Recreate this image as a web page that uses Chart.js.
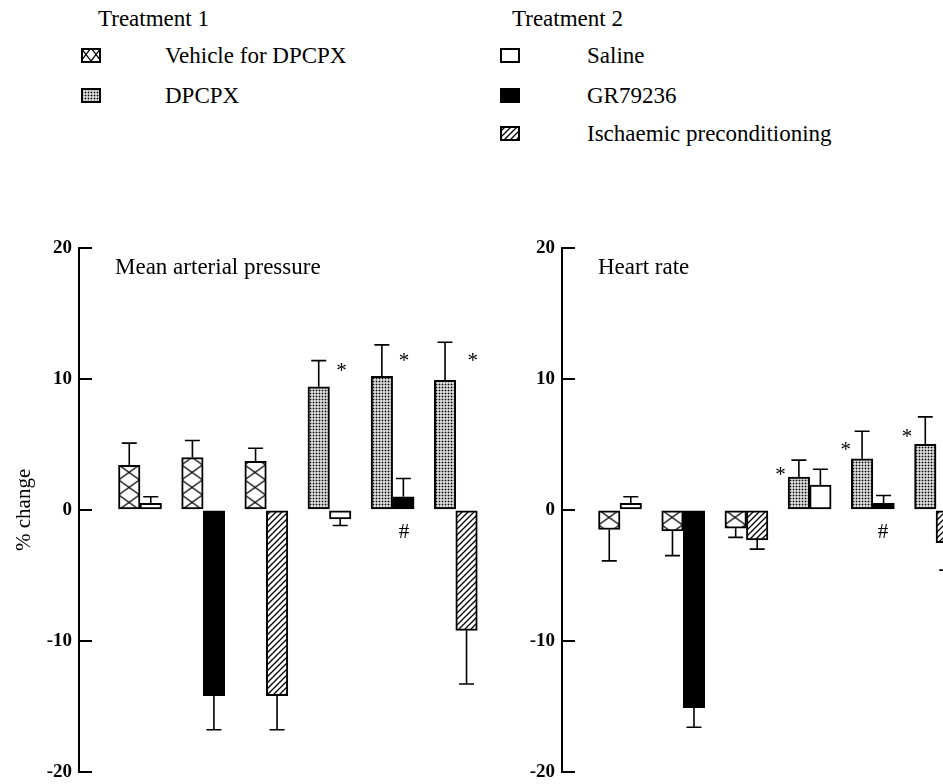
<!DOCTYPE html>
<html>
<head>
<meta charset="utf-8">
<script src="https://cdn.jsdelivr.net/npm/chart.js@4.4.0/dist/chart.umd.min.js"></script>
<style>
  html, body { margin: 0; padding: 0; background: #fff; overflow: hidden; width: 943px; height: 784px; }
  body { position: relative; font-family: "Liberation Serif", "DejaVu Serif", serif; color: #000; }
  .lbl { position: absolute; font-size: 23px; line-height: 1; white-space: nowrap; transform: translateY(-50%); }
  .sw { position: absolute; }
  #mapChart, #hrChart { position: absolute; top: 230px; }
  #mapChart { left: 0; }
  #hrChart { left: 483px; }
</style>
</head>
<body>

<div class="lbl" style="left:98px;top:18px">Treatment 1</div>
<div class="lbl" style="left:165px;top:55px">Vehicle for DPCPX</div>
<div class="lbl" style="left:165px;top:95px">DPCPX</div>
<div class="lbl" style="left:512px;top:18px">Treatment 2</div>
<div class="lbl" style="left:587px;top:55px">Saline</div>
<div class="lbl" style="left:587px;top:95px">GR79236</div>
<div class="lbl" style="left:587px;top:133px">Ischaemic preconditioning</div>

<canvas class="sw" id="swVehicle" width="20" height="15" style="left:81px;top:48px"></canvas>
<canvas class="sw" id="swDpcpx" width="20" height="15" style="left:81px;top:88px"></canvas>
<canvas class="sw" id="swSaline" width="20" height="15" style="left:500px;top:48px"></canvas>
<canvas class="sw" id="swGr" width="20" height="15" style="left:500px;top:88px"></canvas>
<canvas class="sw" id="swIsch" width="20" height="15" style="left:500px;top:126px"></canvas>

<canvas id="mapChart" width="483" height="554"></canvas>
<canvas id="hrChart" width="483" height="554"></canvas>

<script>
// group positions and fill kinds
var groups = [1, 2, 3, 4, 5, 6];
var t1Kinds = ['cross', 'cross', 'cross', 'dots', 'dots', 'dots'];
var t2Kinds = ['white', 'black', 'hatch', 'white', 'black', 'hatch'];
var yTicks = [-20, -10, 0, 10, 20];

// mean arterial pressure, % change
var mapT1 = [3.4, 4.0, 3.7, 9.4, 10.2, 9.9];
var mapT1Err = [1.7, 1.3, 1.0, 2.0, 2.4, 2.9];
var mapT2 = [0.5, -14.2, -14.2, -0.7, 1.0, -9.2];
var mapT2Err = [0.5, 2.6, 2.6, 0.5, 1.4, 4.1];

// heart rate, % change
var hrT1 = [-1.5, -1.6, -1.4, 2.5, 3.9, 5.0];
var hrT1Err = [2.4, 1.9, 0.7, 1.3, 2.1, 2.1];
var hrT2 = [0.5, -15.1, -2.3, 1.9, 0.5, -2.5];
var hrT2Err = [0.5, 1.5, 0.7, 1.2, 0.6, 2.1];

// significance marks (x in group units, y in % change)
var mapMarks = [
	{ x: 4.19, y: 10.9, text: '*' },
	{ x: 5.18, y: 11.7, text: '*' },
	{ x: 6.27, y: 11.7, text: '*' },
	{ x: 5.18, y: -1.6, text: '#' }
];
var hrMarks = [
	{ x: 3.54, y: 2.95, text: '*' },
	{ x: 4.57, y: 4.9, text: '*' },
	{ x: 5.54, y: 5.9, text: '*' },
	{ x: 5.16, y: -1.6, text: '#' }
];

var serif = '"Liberation Serif", "DejaVu Serif", serif';
Chart.defaults.font.family = serif;
Chart.defaults.color = '#000';

function makeTile(w, h, draw) {
	var c = document.createElement('canvas');
	c.width = w; c.height = h;
	var g = c.getContext('2d');
	g.fillStyle = '#fff';
	g.fillRect(0, 0, w, h);
	g.strokeStyle = '#000';
	g.fillStyle = '#000';
	draw(g, w, h);
	return c;
}

function makePatterns(ctx, crossW, crossH) {
	var cross = makeTile(crossW || 21, crossH || 15, function(g, w, h) {
		g.lineWidth = 1.3;
		g.beginPath();
		g.moveTo(0, 0); g.lineTo(w, h);
		g.moveTo(w, 0); g.lineTo(0, h);
		g.stroke();
	});
	var dots = makeTile(3, 3, function(g) {
		g.fillRect(0.6, 0.6, 1.8, 1.8);
	});
	var hatch = makeTile(6, 6, function(g) {
		g.lineWidth = 1.3;
		g.beginPath();
		g.moveTo(0, 6); g.lineTo(6, 0);
		g.moveTo(-1, 1); g.lineTo(1, -1);
		g.moveTo(5, 7); g.lineTo(7, 5);
		g.stroke();
	});
	return {
		cross: ctx.createPattern(cross, 'repeat'),
		dots: ctx.createPattern(dots, 'repeat'),
		hatch: ctx.createPattern(hatch, 'repeat'),
		white: '#ffffff',
		black: '#000000'
	};
}

// line the cross-hatch up with the first bar
var alignPatterns = {
	id: 'alignPatterns',
	beforeDatasetsDraw: function(chart) {
		if (!chart.$pats) return;
		var b = chart.getDatasetMeta(0).data[0];
		var zero = chart.scales.y.getPixelForValue(0);
		chart.$pats.cross.setTransform(new DOMMatrix().translate(b.x - b.width / 2, zero));
	}
};

var errorBars = {
	id: 'errorBars',
	afterDatasetsDraw: function(chart) {
		var ctx = chart.ctx, ys = chart.scales.y;
		ctx.save();
		ctx.strokeStyle = '#000';
		ctx.lineWidth = 1.6;
		chart.data.datasets.forEach(function(ds, d) {
			chart.getDatasetMeta(d).data.forEach(function(bar, i) {
				var v = ds.data[i].y, e = ds.err[i];
				var end = ys.getPixelForValue(v + (v < 0 ? -e : e));
				ctx.beginPath();
				ctx.moveTo(bar.x, bar.y);
				ctx.lineTo(bar.x, end);
				ctx.moveTo(bar.x - 7.5, end);
				ctx.lineTo(bar.x + 7.5, end);
				ctx.stroke();
			});
		});
		ctx.restore();
	}
};

var panelText = {
	id: 'panelText',
	afterDraw: function(chart) {
		if (!chart.$marks) return;
		var ctx = chart.ctx, a = chart.chartArea;
		var xs = chart.scales.x, ys = chart.scales.y;
		ctx.save();
		ctx.fillStyle = '#000';
		ctx.font = '23px ' + serif;
		ctx.textBaseline = 'middle';
		ctx.textAlign = 'left';
		ctx.fillText(chart.$title, a.left + 36, a.top + 20);
		ctx.font = '21px ' + serif;
		ctx.textAlign = 'center';
		ctx.textBaseline = 'alphabetic';
		chart.$marks.forEach(function(m) {
			var t = ctx.measureText(m.text);
			var off = (t.actualBoundingBoxAscent - t.actualBoundingBoxDescent) / 2;
			ctx.fillText(m.text, xs.getPixelForValue(m.x), ys.getPixelForValue(m.y) + off);
		});
		ctx.restore();
	}
};

function buildChart(id, title, t1, t1Err, t2, t2Err, marks, xMin, xMax, showTitle) {
	var ctx = document.getElementById(id).getContext('2d');
	var pats = makePatterns(ctx);
	var chart = new Chart(ctx, {
		type: 'bar',
		data: {
			datasets: [
				{
					label: 'Treatment 1',
					data: groups.map(function(g, i) { return { x: g, y: t1[i] }; }),
					err: t1Err,
					backgroundColor: t1Kinds.map(function(k) { return pats[k]; })
				},
				{
					label: 'Treatment 2',
					data: groups.map(function(g, i) { return { x: g, y: t2[i] }; }),
					err: t2Err,
					backgroundColor: t2Kinds.map(function(k) { return pats[k]; })
				}
			]
		},
		options: {
			responsive: false,
			animation: false,
			events: [],
			layout: { padding: { top: 18, bottom: 12.3, left: 0, right: 0 } },
			datasets: {
				bar: {
					barThickness: 21.5,
					borderColor: '#000',
					borderWidth: 2,
					borderSkipped: false
				}
			},
			scales: {
				x: { type: 'linear', display: false, offset: false, min: xMin, max: xMax },
				y: {
					min: -20,
					max: 20,
					afterFit: function(s) { s.width = 79; s.paddingTop = 0; s.paddingBottom = 0; },
					afterBuildTicks: function(s) { s.ticks = yTicks.map(function(v) { return { value: v }; }); },
					border: { display: true, color: '#000', width: 2 },
					grid: { drawOnChartArea: false, drawTicks: true, tickLength: -13, color: '#000', lineWidth: 2 },
					ticks: { padding: 20, color: '#000', font: { family: serif, size: 19, weight: 'bold' } },
					title: {
						display: showTitle,
						text: '% change',
						color: '#000',
						padding: { top: 12 },
						font: { family: serif, size: 21 }
					}
				}
			},
			plugins: {
				legend: { display: false },
				tooltip: { enabled: false }
			}
		},
		plugins: [alignPatterns, errorBars, panelText]
	});
	chart.$pats = pats;
	chart.$title = title;
	chart.$marks = marks;
	chart.update('none');
	return chart;
}

buildChart('mapChart', 'Mean arterial pressure', mapT1, mapT1Err, mapT2, mapT2Err, mapMarks, 0.034, 6.431, true);
buildChart('hrChart', 'Heart rate', hrT1, hrT1Err, hrT2, hrT2Err, hrMarks, 0.082, 6.474, false);

// legend swatches
function swatch(id, kind) {
	var c = document.getElementById(id);
	var g = c.getContext('2d');
	var p = makePatterns(g, 10, 13);
	g.fillStyle = p[kind];
	g.fillRect(0, 0, c.width, c.height);
	g.strokeStyle = '#000';
	g.lineWidth = 2;
	g.strokeRect(1, 1, c.width - 2, c.height - 2);
}
swatch('swVehicle', 'cross');
swatch('swDpcpx', 'dots');
swatch('swSaline', 'white');
swatch('swGr', 'black');
swatch('swIsch', 'hatch');
</script>
</body>
</html>
